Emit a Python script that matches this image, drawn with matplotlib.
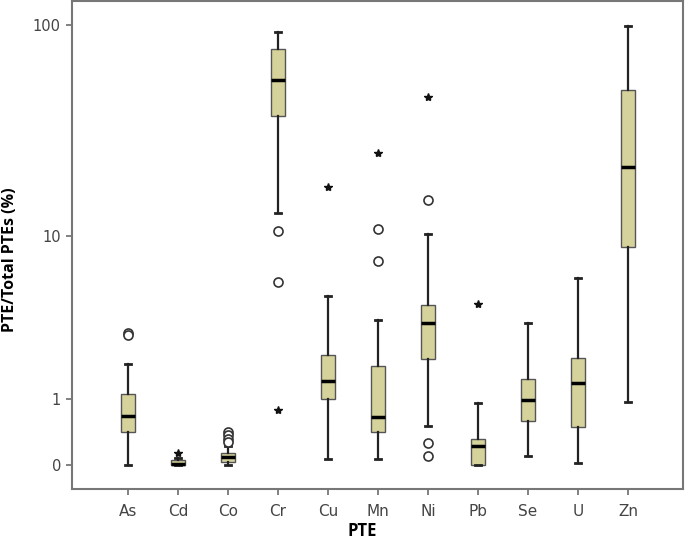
import numpy as np
import matplotlib
matplotlib.use("Agg")
import matplotlib.pyplot as plt

elements = ['As', 'Cd', 'Co', 'Cr', 'Cu', 'Mn', 'Ni', 'Pb', 'Se', 'U', 'Zn']
whislo = [0.0, 0.0, 0.0, 13.1, 0.065, 0.065, 0.51, 0.0, 0.095, 0.019, 0.94]
q1 = [0.41, 0.0, 0.035, 37.9, 0.99, 0.41, 2.04, 0.0, 0.59, 0.49, 8.8]
med = [0.68, 0.012, 0.084, 55.9, 1.42, 0.65, 3.43, 0.22, 0.97, 1.36, 21.9]
q3 = [1.10, 0.054, 0.13, 77.2, 2.18, 1.84, 4.36, 0.32, 1.46, 2.08, 50.0]
whishi = [1.88, 0.08, 0.22, 92.8, 4.87, 3.60, 10.3, 0.92, 3.43, 6.12, 99.0]

circle_outliers = {
    'As': [3.0, 2.9],
    'Co': [0.42, 0.37, 0.31, 0.27],
    'Cr': [10.6, 5.8],
    'Mn': [10.9, 7.5],
    'Ni': [15.2, 0.26, 0.095],
}
star_outliers = {
    'Cd': [0.13],
    'Cr': [0.79],
    'Cu': [17.5],
    'Mn': [25.5],
    'Ni': [46.6],
    'Pb': [4.4],
}
yticks = [0, 1, 10, 100]


def fwd(x):
    x = np.asarray(x, dtype=float)
    return np.log10(np.clip(x, -0.999, None) + 1)


def inv(y):
    return 10 ** np.asarray(y, dtype=float) - 1


fig = plt.figure(figsize=(6.85, 5.42), dpi=100)
ax = fig.add_axes([72 / 685, 53 / 542, 611 / 685, 488 / 542])
ax.set_yscale('function', functions=(fwd, inv))

stats = []
for i, name in enumerate(elements):
    stats.append(dict(label=name, whislo=whislo[i], q1=q1[i], med=med[i],
                      q3=q3[i], whishi=whishi[i], fliers=[]))

pos = np.arange(len(elements))
ax.bxp(stats, positions=pos, widths=0.27, showfliers=False, patch_artist=True,
       capwidths=0.12,
       boxprops=dict(facecolor='#d6d29b', edgecolor='#555555', linewidth=1.0),
       medianprops=dict(color='black', linewidth=2.5),
       whiskerprops=dict(color='#222222', linewidth=1.6),
       capprops=dict(color='#222222', linewidth=2.0))

for name, vals in circle_outliers.items():
    i = elements.index(name)
    ax.plot([i] * len(vals), vals, linestyle='none', marker='o', markersize=6.5,
            markerfacecolor='white', markeredgecolor='#333333', markeredgewidth=1.2)
for name, vals in star_outliers.items():
    i = elements.index(name)
    ax.plot([i] * len(vals), vals, linestyle='none', marker='*', markersize=6,
            color='#111111')

ax.set_xlim(-1.12, 11.1)
ax.set_ylim(-0.222, 129)
ax.set_yticks(yticks)
ax.set_yticklabels([str(t) for t in yticks])
ax.yaxis.set_minor_locator(matplotlib.ticker.NullLocator())
ax.set_xticks(pos)
ax.set_xticklabels(elements)

for s in ax.spines.values():
    s.set_color('#777777')
    s.set_linewidth(1.5)
ax.tick_params(axis='both', direction='out', length=4, width=1.3, color='#777777',
               labelcolor='#444444', labelsize=10.5, pad=4)
ax.tick_params(axis='x', pad=7, labelsize=11)

ax.set_xlabel('PTE', fontsize=12, fontweight='bold', family='Open Sans')
ax.set_ylabel('PTE/Total PTEs (%)', fontsize=11.5, fontweight='bold', family='Open Sans')
ax.xaxis.set_label_coords((362 - 72) / 611, (489 - 531) / 488)
ax.yaxis.set_label_coords((10 - 72) / 611, (489 - 260) / 488)
ax.xaxis.label.set_va('center')
ax.yaxis.label.set_va('center')

fig.savefig('out.png', dpi=100)
